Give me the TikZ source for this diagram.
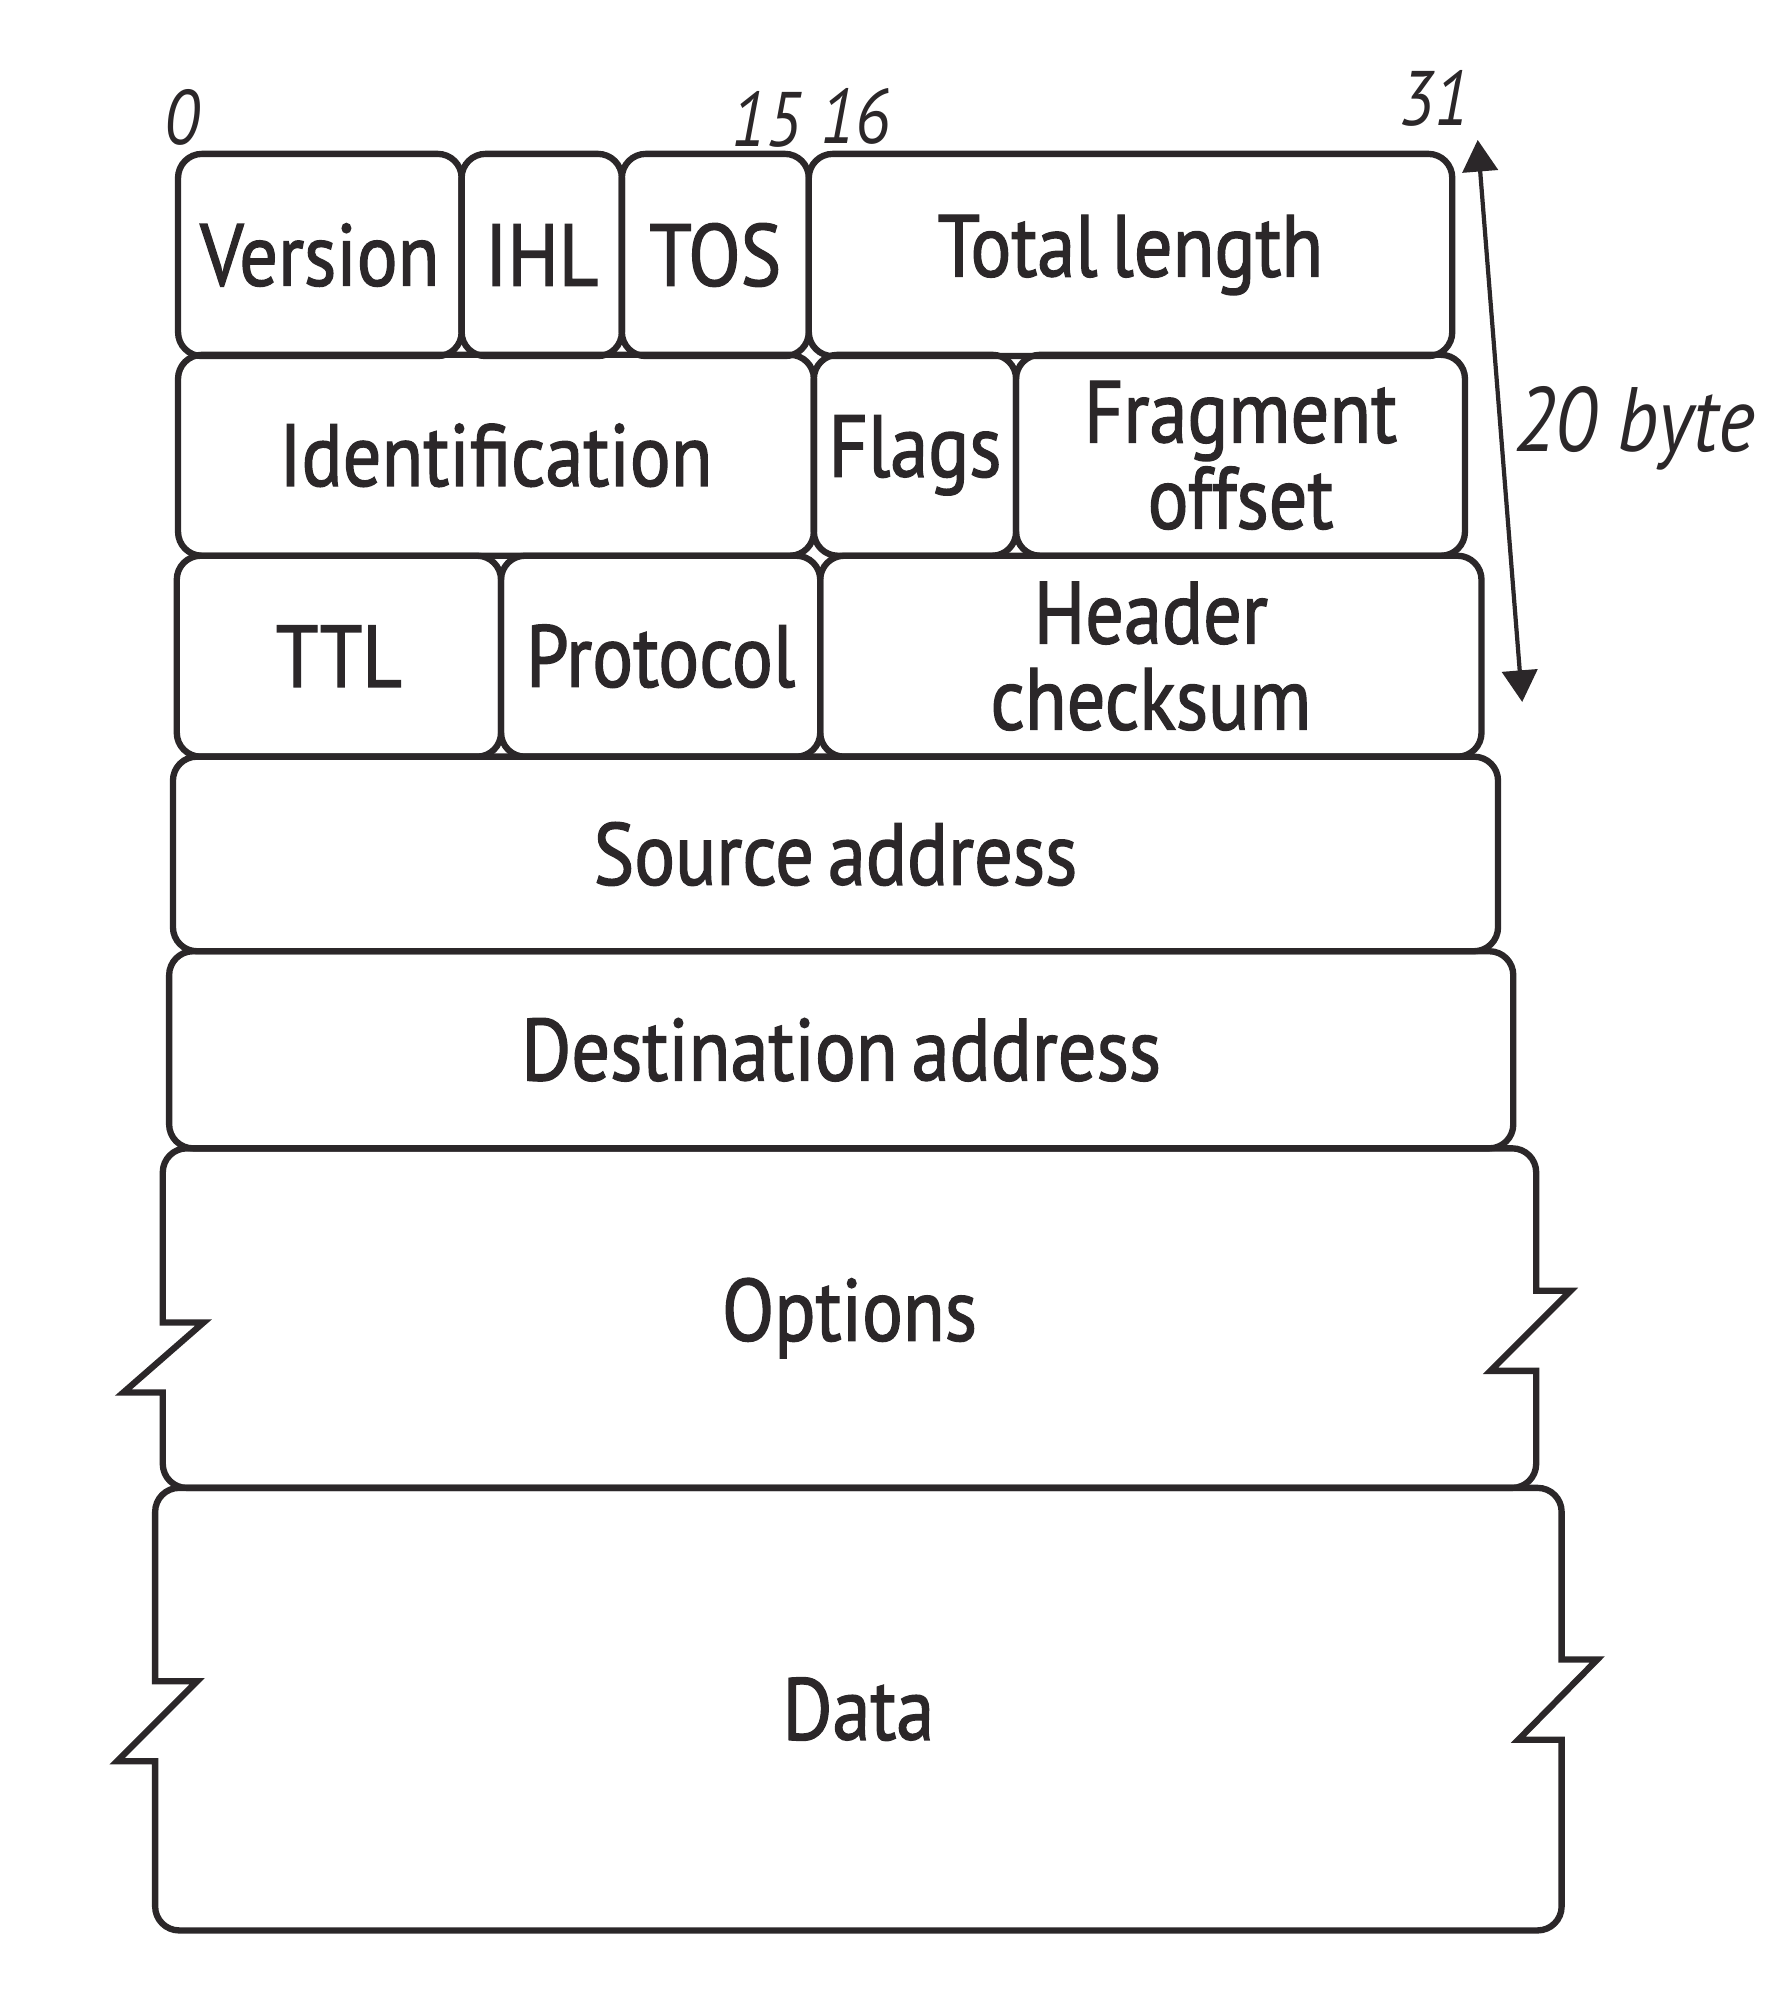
\documentclass[tikz,border=0pt]{standalone}
\usepackage{fontspec}
\setmainfont{PT Sans}[FakeStretch=0.87, FakeBold=1.5]
\newfontfamily\bitface{PT Sans}[FakeStretch=0.87]
\usetikzlibrary{arrows.meta, positioning, calc}
\definecolor{ink}{HTML}{2B2729}
\newcommand{\px}{0.12716mm}
\newcommand{\cellfont}{\fontsize{25}{24.5}\selectfont\spaceskip=0.16em plus 0.05em}
\newcommand{\bitfont}{\bitface\itshape\fontsize{22}{22}\selectfont}
\tikzset{
  field/.style={draw=ink, line width=1.8pt, rounded corners=2.4mm, outer sep=0pt,
                inner sep=0pt, align=center, font=\cellfont, text=ink},
  wide/.style={outer sep=0pt, inner sep=0pt, align=center, font=\cellfont, text=ink},
  brk/.style={draw=ink, line width=1.8pt, line join=miter},
  bit/.style={inner sep=0pt, font=\bitfont, text=ink},
  span/.style={{Triangle[length=9pt,width=10pt]}-{Triangle[length=9pt,width=10pt]},
               line width=1.2pt, draw=ink},
}

\begin{document}
\begin{tikzpicture}[x=\px, y=-\px, node distance=0pt]
    \useasboundingbox (0,0) rectangle (1403,1568);
    % row 1
    \node[field, minimum width=223*\px, minimum height=159*\px, anchor=north west] (ver) at (140,121) {Version};
    \node[field, minimum width=126*\px, minimum height=159*\px, right=of ver] (ihl) {IHL};
    \node[field, minimum width=147*\px, minimum height=159*\px, right=of ihl] (tos) {TOS};
    \node[field, minimum width=506*\px, minimum height=159*\px, right=of tos] (len) {Total length};
    % row 2
    \node[field, minimum width=500*\px, minimum height=158*\px, anchor=north west] (ident) at (140,279) {Identification};
    \node[field, minimum width=159*\px, minimum height=158*\px, right=of ident] (flags) {Flags};
    \node[field, minimum width=353*\px, minimum height=158*\px, right=of flags] (frag) {Fragment\\offset};
    % row 3
    \node[field, minimum width=255*\px, minimum height=158*\px, anchor=north west] (ttl) at (139,437) {TTL};
    \node[field, minimum width=251*\px, minimum height=158*\px, right=of ttl] (proto) {Protocol};
    \node[field, minimum width=520*\px, minimum height=158*\px, right=of proto] (csum) {Header\\checksum};
    % rows 4 and 5
    \node[field, minimum width=1042*\px, minimum height=153*\px, anchor=north west] (src) at (136,595) {Source address};
    \node[field, minimum width=1057*\px, minimum height=155*\px, anchor=north west] (dst) at (133,748) {Destination address};
    % options and data, broken sides
    \node[wide, minimum width=1080*\px, minimum height=267*\px, anchor=north west] (opt) at (128,903) {Options};
    \node[wide, minimum width=1106*\px, minimum height=348*\px, anchor=north west] (dat) at (122,1170) {Data};
    \draw[brk] (opt.north) [rounded corners=2.4mm] -- (opt.north east) [sharp corners]
      -- ($(opt.north east)+(0,112)$) -- ($(opt.north east)+(27,112)$)
      -- ($(opt.north east)+(-36,175)$) -- ($(opt.north east)+(0,175)$) [rounded corners=2.4mm]
      -- (opt.south east) -- (opt.south west) [sharp corners]
      -- ($(opt.north west)+(0,192)$) -- ($(opt.north west)+(-31,192)$)
      -- ($(opt.north west)+(32,137)$) -- ($(opt.north west)+(0,137)$) [rounded corners=2.4mm]
      -- (opt.north west) -- (opt.north);
    \draw[brk] (dat.north) [rounded corners=2.4mm] -- (dat.north east) [sharp corners]
      -- ($(dat.north east)+(0,135)$) -- ($(dat.north east)+(28,135)$)
      -- ($(dat.north east)+(-34,198)$) -- ($(dat.north east)+(0,198)$) [rounded corners=2.4mm]
      -- (dat.south east) -- (dat.south west) [sharp corners]
      -- ($(dat.north west)+(0,215)$) -- ($(dat.north west)+(-30,215)$)
      -- ($(dat.north west)+(33,152)$) -- ($(dat.north west)+(0,152)$) [rounded corners=2.4mm]
      -- (dat.north west) -- (dat.north);
    % bit numbers and header size
    \node[bit, anchor=base] (b0) at (143,114) {0};
    \node[bit, anchor=base] (b15) at (603,115) {15};
    \node[bit, anchor=base] (b16) at (673,113) {16};
    \node[bit, anchor=base] (b31) at (1128,99) {31};
    \coordinate (hdtop) at (1162,110);
    \coordinate (hdbot) at (1197,552);
    \draw[span] (hdtop) -- (hdbot);
    \node[bit, font=\bitface\itshape\fontsize{26}{26}\selectfont, anchor=base west] (hdlen) at (1190,355) {20 byte};
  \end{tikzpicture}
\end{document}
